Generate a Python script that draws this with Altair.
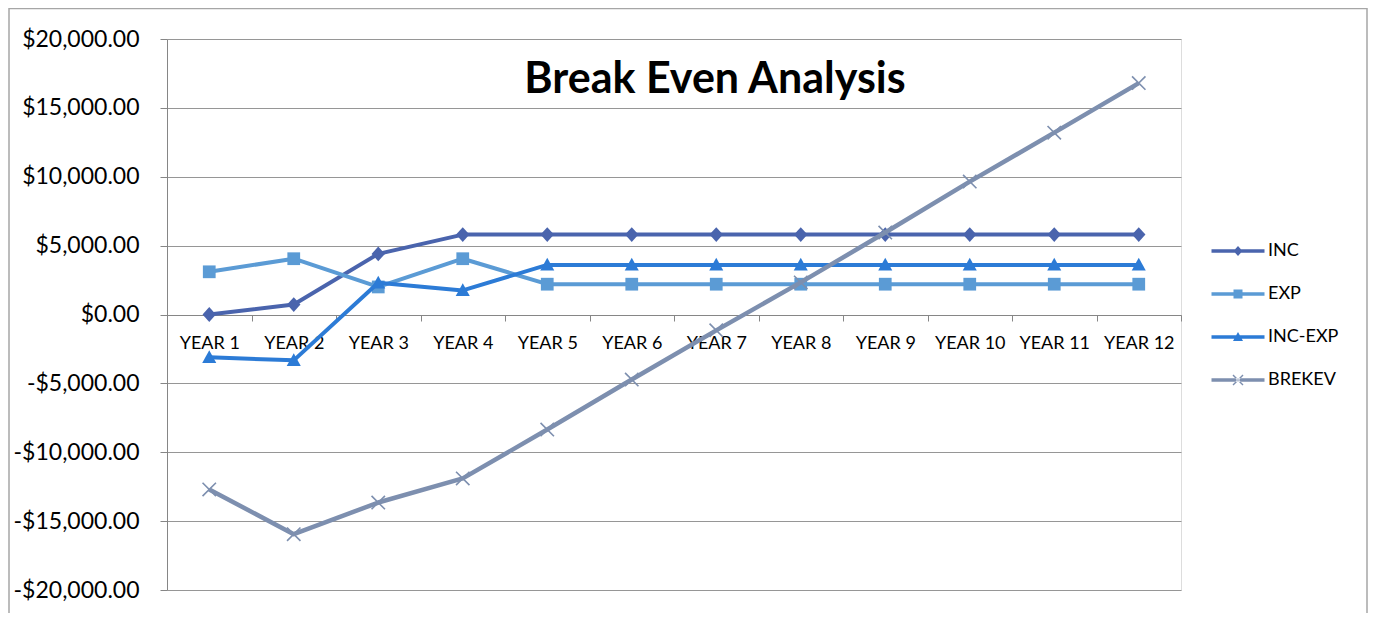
import altair as alt
import pandas as pd

years = ["YEAR 1", "YEAR 2", "YEAR 3", "YEAR 4", "YEAR 5", "YEAR 6",
         "YEAR 7", "YEAR 8", "YEAR 9", "YEAR 10", "YEAR 11", "YEAR 12"]
inc = [0, 720, 4400, 5800, 5800, 5800, 5800, 5800, 5800, 5800, 5800, 5800]
exp = [3100, 4050, 2000, 4050, 2200, 2200, 2200, 2200, 2200, 2200, 2200, 2200]
inc_exp = [-3100, -3330, 2300, 1750, 3600, 3600, 3600, 3600, 3600, 3600, 3600, 3600]
brekev = [-12700, -15950, -13650, -11900, -8350, -4720, -1150, 2330, 5950, 9650, 13200, 16800]

series = ["INC", "EXP", "INC-EXP", "BREKEV"]
colors = ["#4A64AD", "#5B9BD5", "#2C7BD6", "#7D8FAF"]
widths = [4, 4, 4, 4.5]
y_ticks = [-20000, -15000, -10000, -5000, 0, 5000, 10000, 15000, 20000]
title_text = "Break Even Analysis"

rows = []
for name, vals in zip(series, [inc, exp, inc_exp, brekev]):
    for yr, v in zip(years, vals):
        rows.append({"year": yr, "series": name, "value": v})
df = pd.DataFrame(rows)


def xshape(h):
    a = ("M{:.3f},{:.3f}L{:.3f},{:.3f}L{:.3f},{:.3f}L{:.3f},{:.3f}Z"
         .format(-1 - h, -1 + h, 1 - h, 1 + h, 1 + h, 1 - h, -1 + h, -1 - h))
    b = ("M{:.3f},{:.3f}L{:.3f},{:.3f}L{:.3f},{:.3f}L{:.3f},{:.3f}Z"
         .format(-1 + h, 1 + h, 1 + h, -1 + h, 1 - h, -1 - h, -1 - h, 1 - h))
    return a + b


marker_paths = [
    "M0,-1.1L1,0L0,1.1L-1,0Z",
    "M-0.95,-0.95H0.95V0.95H-0.95Z",
    "M0,-1.05L1.05,0.85H-1.05Z",
    xshape(0.085),
]
leg_line = "M-5.3,-0.35H5.3V0.35H-5.3Z"
legend_paths = [
    leg_line + "M0,-1L0.9,0L0,1L-0.9,0Z",
    leg_line + "M-0.9,-0.9H0.9V0.9H-0.9Z",
    leg_line + "M0,-1L1,0.8H-1Z",
    leg_line + xshape(0.1),
]

x_enc = alt.X(
    "year:N",
    sort=years,
    scale=alt.Scale(type="band", paddingInner=0, paddingOuter=0),
    axis=alt.Axis(
        title=None, orient="bottom", offset=-275, labelAngle=0,
        tickBand="extent", tickSize=6, tickColor="#868686",
        domainColor="#868686", labelFont="Lato", labelFontSize=18,
        labelColor="#000000", labelPadding=13, grid=False,
    ),
)
y_enc = alt.Y(
    "value:Q",
    scale=alt.Scale(domain=[-20000, 20000], nice=False, zero=False),
    axis=alt.Axis(
        title=None, values=y_ticks, grid=True, gridColor="#969696",
        domainColor="#868686", tickColor="#868686", tickSize=7,
        labelFont="Lato", labelFontSize=23, labelColor="#000000",
        labelPadding=21,
        labelExpr="(datum.value < 0 ? '-' : '') + '$' + format(abs(datum.value), ',.2f')",
    ),
)
color_scale = alt.Scale(domain=series, range=colors)

frame = alt.Chart(pd.DataFrame({"f": [0]})).mark_rect(
    fill=None, stroke="#A6A6A6", strokeWidth=1.5, clip=False
).encode(
    x=alt.value(-158), x2=alt.value(1200), y=alt.value(-30.5), y2=alt.value(640)
)

layers = [frame]
first = True
for name, col, w, path in zip(series, colors, widths, marker_paths):
    base = alt.Chart(df).transform_filter(alt.datum.series == name)
    line = base.mark_line(color=col, strokeWidth=w, strokeJoin="round").encode(
        x=x_enc if first else alt.X("year:N", sort=years),
        y=y_enc if first else alt.Y("value:Q"),
    )
    pts = base.mark_point(filled=True, opacity=1, size=180, strokeWidth=0,
                          shape=path, color=col).encode(
        x=alt.X("year:N", sort=years),
        y="value:Q",
    )
    layers += [line, pts]
    first = False

leg = alt.Legend(
    title=None, orient="none", legendX=1062, legendY=203,
    labelFont="Lato", labelFontSize=18, labelColor="#000000",
    labelOffset=21, rowPadding=25, symbolSize=100,
    symbolOpacity=1, symbolStrokeWidth=0, padding=0,
)
legend_layer = alt.Chart(df).mark_point(filled=True, opacity=0, size=100, strokeWidth=0).encode(
    x=alt.X("year:N", sort=years),
    y="value:Q",
    color=alt.Color("series:N", scale=color_scale, legend=leg),
    shape=alt.Shape("series:N", scale=alt.Scale(domain=series, range=legend_paths), legend=leg),
)
layers.append(legend_layer)

title = alt.Chart(pd.DataFrame({"t": [title_text]})).mark_text(
    font="Lato", fontSize=43, fontWeight="bold", color="#000000",
    align="center", baseline="alphabetic",
).encode(text="t:N", x=alt.value(548), y=alt.value(54))
layers.append(title)

chart = alt.layer(*layers).properties(
    width=1014,
    height=551,
    padding={"left": 159, "top": 31, "right": 187, "bottom": 23},
    autosize=alt.AutoSizeParams(type="none"),
).configure_view(stroke=None).configure(background="#FFFFFF")

chart.save("out.html", embed_options={"renderer": "svg", "actions": False})
